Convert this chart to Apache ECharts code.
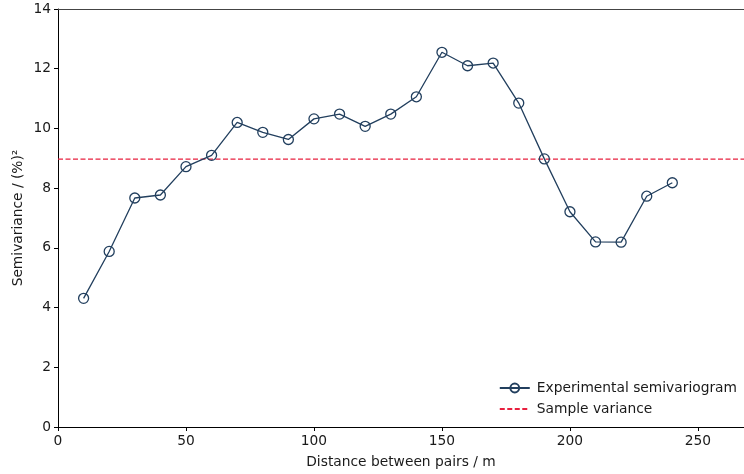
<!DOCTYPE html>
<html>
<head>
<meta charset="utf-8">
<script src="https://cdn.jsdelivr.net/npm/echarts@6/dist/echarts.min.js"></script>
<style>
  html, body { margin: 0; padding: 0; background: #ffffff; }
  #chart { width: 744px; height: 474px; }
</style>
</head>
<body>
<div id="chart"></div>
<script>
// Lag distances (m) and experimental semivariance values
const lagDistances = [10, 20, 30, 40, 50, 60, 70, 80, 90, 100, 110, 120,
                      130, 140, 150, 160, 170, 180, 190, 200, 210, 220, 230, 240];
const semivariance = [4.31, 5.88, 7.67, 7.77, 8.72, 9.10, 10.20, 9.87, 9.63, 10.32, 10.48, 10.07,
                      10.48, 11.06, 12.55, 12.10, 12.19, 10.85, 8.98, 7.21, 6.20, 6.19, 7.73, 8.18];
const sampleVariance = 8.97;
const xRange = [0, 268];
const yRange = [0, 14];

const FONT = 'DejaVu Sans';
const LINE_COLOR = '#223f5e';
const VAR_COLOR = '#e8203f';

const chart = echarts.init(document.getElementById('chart'), null, { renderer: 'canvas' });

const tickStyle = { show: true, length: 4, inside: false, lineStyle: { color: '#000', width: 1 } };
const labelStyle = { color: '#1a1a1a', fontFamily: FONT, fontSize: 13.8 };

chart.setOption({
  animation: false,
  backgroundColor: '#ffffff',
  grid: { left: 58, right: 0, top: 9, bottom: 46, containLabel: false },
  legend: {
    right: 2, bottom: 53, orient: 'vertical', itemGap: 7,
    itemWidth: 30, itemHeight: 11,
    textStyle: { color: '#1a1a1a', fontFamily: FONT, fontSize: 13.8, padding: [0, 0, 0, 2] },
    data: [
      { name: 'Experimental semivariogram' },
      { name: 'Sample variance', itemStyle: { opacity: 0 } }
    ]
  },
  xAxis: [{
    type: 'value', min: xRange[0], max: xRange[1], interval: 50,
    name: 'Distance between pairs / m', nameLocation: 'middle', nameGap: 28,
    nameMoveOverlap: false,
    nameTextStyle: labelStyle,
    axisLine: { show: true, lineStyle: { color: '#000', width: 1 } },
    axisTick: tickStyle,
    axisLabel: Object.assign({ margin: 7, showMaxLabel: false }, labelStyle),
    splitLine: { show: false }
  }, {
    type: 'value', position: 'top', min: xRange[0], max: xRange[1],
    axisLine: { show: true, lineStyle: { color: '#444', width: 1 } },
    axisTick: { show: false }, axisLabel: { show: false }, splitLine: { show: false }
  }],
  yAxis: {
    type: 'value', min: yRange[0], max: yRange[1], interval: 2,
    name: 'Semivariance / (%)²', nameLocation: 'middle', nameGap: 33,
    nameMoveOverlap: false,
    nameTextStyle: labelStyle,
    axisLine: { show: true, lineStyle: { color: '#000', width: 1 } },
    axisTick: tickStyle,
    axisLabel: Object.assign({ margin: 7 }, labelStyle),
    splitLine: { show: false }
  },
  series: [{
    name: 'Experimental semivariogram',
    type: 'line',
    data: lagDistances.map((d, i) => [d, semivariance[i]]),
    symbol: 'circle', symbolSize: 10, showAllSymbol: true,
    lineStyle: { color: LINE_COLOR, width: 1.3 },
    itemStyle: { color: 'rgba(255,255,255,0)', borderColor: LINE_COLOR, borderWidth: 1.3 },
    emphasis: { disabled: true },
    z: 3
  }, {
    name: 'Sample variance',
    type: 'line',
    data: [[xRange[0], sampleVariance], [xRange[1], sampleVariance]],
    symbol: 'none',
    lineStyle: { color: VAR_COLOR, width: 1.3, type: [5, 2.5] },
    itemStyle: { color: VAR_COLOR },
    emphasis: { disabled: true },
    z: 2
  }]
});
</script>
</body>
</html>
